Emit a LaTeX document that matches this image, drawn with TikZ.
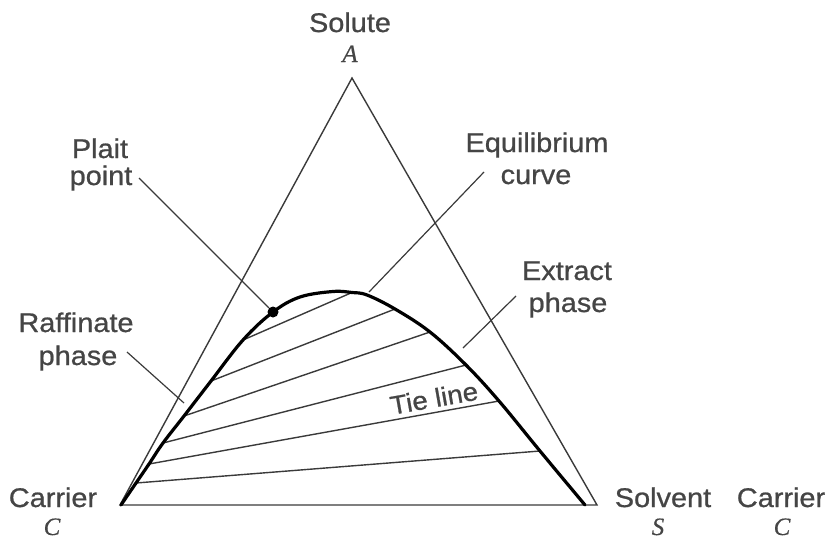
\documentclass[tikz,border=0pt]{standalone}
\usepackage{fontspec}
\setmainfont{Liberation Sans}[FakeStretch=1.07, FakeBold=0.8]
\newfontfamily\letterfont{Liberation Serif}[FakeBold=0.5]
\definecolor{labelgray}{HTML}{454545}
\definecolor{linegray}{HTML}{3A3A3A}
\begin{document}
\begin{tikzpicture}[x=1pt,y=-1pt,
  lbl/.style={font=\fontsize{27}{30}\selectfont, text=labelgray, inner sep=0pt, anchor=base},
  ltr/.style={font=\fontsize{25}{27}\selectfont\letterfont\itshape, text=labelgray, inner sep=0pt, anchor=base},
  triside/.style={draw=linegray, line width=1.4pt, line join=miter},
  tieline/.style={draw=linegray, line width=1.4pt},
  leader/.style={draw=linegray, line width=1.2pt},
  eqcurve/.style={draw=black, line width=3.2pt, line join=round, line cap=round}]
\useasboundingbox (0,0) rectangle (826,539);
% triangle
\coordinate (A) at (352,78);
\coordinate (C) at (120,505);
\coordinate (S) at (597,505);
\draw[triside] (C) -- (A) -- (S) -- cycle;
% equilibrium curve points
\coordinate (p0) at (121,505);
\coordinate (p1) at (136,483);
\coordinate (p2) at (149,464);
\coordinate (p3) at (163,443);
\coordinate (p4) at (184,416);
\coordinate (p5) at (211,381);
\coordinate (p6) at (243,340);
\coordinate (p7) at (273,312);
\coordinate (p8) at (300,297);
\coordinate (p9) at (333,291.5);
\coordinate (p10) at (352,292.5);
\coordinate (p11) at (367,295);
\coordinate (p12) at (395,309);
\coordinate (p13) at (430,332);
\coordinate (p14) at (466,365);
\coordinate (p15) at (499,401);
\coordinate (p16) at (540,451);
\coordinate (p17) at (585,505);
% tie lines
\draw[tieline] (p6) -- (p10);
\draw[tieline] (p5) -- (p12);
\draw[tieline] (p4) -- (p13);
\draw[tieline] (p3) -- (p14);
\draw[tieline] (p2) -- (p15);
\draw[tieline] (p1) -- (p16);
\draw[eqcurve] plot[smooth, tension=0.6] coordinates {(p0) (p1) (p2) (p3) (p4) (p5) (p6) (p7) (p8) (p9) (p10) (p11) (p12) (p13) (p14) (p15) (p16) (p17)};
% plait point
\node[circle, fill=black, inner sep=0pt, minimum size=11pt] (plait) at (p7) {};
% labels
\node[lbl] (solute) at (350,32) {Solute};
\node[ltr] (soluteA) at (350,62) {A};
\node[lbl] (plaitA) at (100,158) {Plait};
\node[lbl] (plaitB) at (101,185) {point};
\node[lbl] (eqA) at (537,152) {Equilibrium};
\node[lbl] (eqB) at (536,184) {curve};
\node[lbl] (exA) at (567,280) {Extract};
\node[lbl] (exB) at (568,312) {phase};
\node[lbl] (rafA) at (76,332) {Raffinate};
\node[lbl] (rafB) at (78,365) {phase};
\node[lbl] (carA) at (53,507) {Carrier};
\node[ltr] (carAC) at (52,535) {C};
\node[lbl] (solv) at (663,507) {Solvent};
\node[ltr] (solvS) at (658,535) {S};
\node[lbl] (carB) at (781,507) {Carrier};
\node[ltr] (carBC) at (782,535) {C};
\node[lbl, anchor=center, rotate=10, font=\fontsize{26}{28}\selectfont] (tie) at (434,398) {Tie line};
% leaders
\coordinate (plaitEnd) at (139,178);
\draw[leader] (plaitEnd) -- (plait);
\coordinate (eqS) at (369,292);
\coordinate (eqE) at (484,172);
\draw[leader] (eqS) -- (eqE);
\coordinate (exS) at (463,348);
\coordinate (exE) at (516,296);
\draw[leader] (exS) -- (exE);
\coordinate (rafS) at (127,352);
\coordinate (rafE) at (184,403);
\draw[leader] (rafS) -- (rafE);
\end{tikzpicture}
\end{document}
